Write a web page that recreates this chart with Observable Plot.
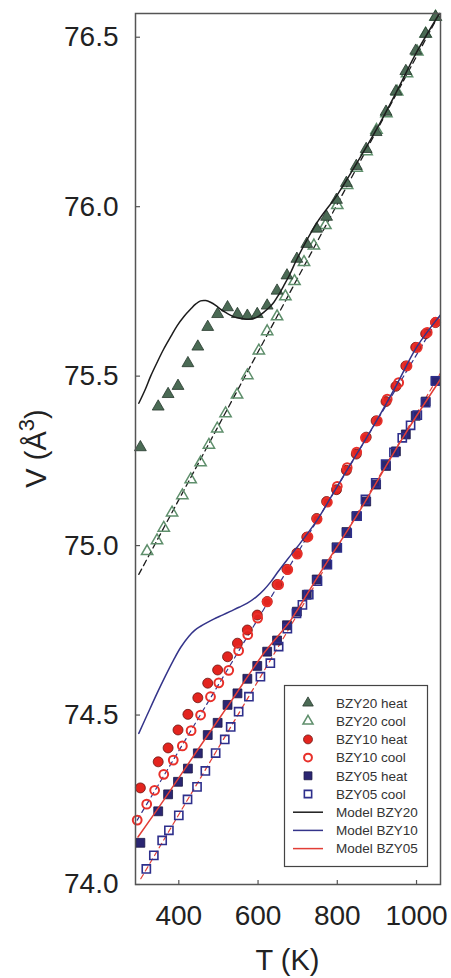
<!DOCTYPE html>
<html><head><meta charset="utf-8">
<script src="https://cdn.jsdelivr.net/npm/d3@7"></script>
<script src="https://cdn.jsdelivr.net/npm/@observablehq/plot@0.6"></script>
<style>body{margin:0;background:#fff;}</style>
</head><body><div id="chart"></div>
<script>
// ---- data ----
const T_heat = [303,348,373,398,423,448,473,498,523,548,573,598,623,648,673,698,723,748,773,798,823,848,873,898,923,948,973,998,1023,1048];
const bzy20Heat = [75.29,75.41,75.447,75.471,75.538,75.587,75.645,75.683,75.703,75.683,75.678,75.683,75.708,75.752,75.797,75.846,75.89,75.935,75.97,76.02,76.07,76.12,76.17,76.22,76.28,76.34,76.40,76.46,76.51,76.56];
const bzy10Heat = [74.285,74.362,74.403,74.456,74.502,74.551,74.594,74.633,74.672,74.712,74.751,74.795,74.835,74.885,74.93,74.978,75.025,75.08,75.13,75.165,75.222,75.27,75.32,75.368,75.425,75.47,75.53,75.585,75.625,75.658];
const bzy05Heat = [74.123,74.216,74.266,74.303,74.342,74.387,74.441,74.477,74.53,74.564,74.607,74.645,74.687,74.72,74.765,74.805,74.855,74.9,74.945,74.995,75.04,75.087,75.13,75.18,75.235,75.278,75.328,75.383,75.425,75.486];

const T_bzy20Cool = [320,345,362,383,409,430,455,476,497,518,547,573,602,623,648,669,692,716,741,770,800,825,849,874,899,924,951,976,1002,1023,1048];
const bzy20Cool = [74.983,75.015,75.052,75.097,75.148,75.195,75.245,75.297,75.345,75.39,75.445,75.502,75.575,75.632,75.676,75.735,75.78,75.836,75.885,75.945,76.004,76.063,76.114,76.163,76.226,76.275,76.339,76.393,76.457,76.51,76.56];

const T_bzy10Cool = [295,319,339,362,386,409,431,455,480,501,526,551,574,599,623,652,675,699,726,749,775,800,825,849,871,901,926,955,976,1002,1027,1048];
const bzy10Cool = [74.19,74.237,74.278,74.325,74.367,74.409,74.454,74.5,74.554,74.595,74.632,74.69,74.737,74.786,74.834,74.885,74.929,74.975,75.026,75.078,75.128,75.175,75.23,75.276,75.318,75.368,75.432,75.481,75.53,75.585,75.629,75.659];

const T_bzy05Cool = [318,337,358,375,400,422,446,467,493,516,531,551,577,606,631,652,674,697,712,728,750,775,800,825,850,871,897,922,943,964,985,1002,1023,1048];
const bzy05Cool = [74.046,74.086,74.13,74.16,74.204,74.251,74.288,74.335,74.388,74.428,74.465,74.51,74.554,74.613,74.653,74.702,74.755,74.8,74.825,74.855,74.895,74.944,74.993,75.037,75.087,75.136,75.185,75.24,75.275,75.318,75.355,75.385,75.422,75.486];

const T_model20 = [299,315,329,345,362,380,396,413,430,443,455,468,480,493,505,518,530,547,564,576,589,602,614,627,640,652,665,680,700,750,800,850,900,950,1000,1058];
const model20 = [75.42,75.46,75.50,75.54,75.58,75.617,75.649,75.676,75.698,75.713,75.722,75.723,75.718,75.709,75.698,75.688,75.68,75.672,75.669,75.668,75.67,75.677,75.688,75.701,75.718,75.74,75.767,75.8,75.85,75.955,76.035,76.13,76.23,76.34,76.455,76.57];

const T_model10 = [299,320,345,366,387,405,425,440,455,470,488,510,530,552,573,595,615,632,648,674,707,749,800,850,900,950,1000,1060];
const model10 = [74.446,74.50,74.564,74.615,74.663,74.70,74.732,74.75,74.762,74.772,74.783,74.795,74.806,74.818,74.83,74.848,74.87,74.893,74.919,74.959,75.008,75.075,75.175,75.272,75.37,75.475,75.585,75.68];

const T_model05 = [297,362,447,531,615,683,749,850,968,1060];
const model05 = [74.14,74.249,74.396,74.539,74.683,74.781,74.905,75.09,75.323,75.49];

const T_fit20 = [299,1058]; const fit20 = [74.915,76.57];
const T_fit10 = [295,1060]; const fit10 = [74.19,75.68];
const T_fit05 = [304,1060]; const fit05 = [74.017,75.508];

const xTicks = [400,600,800,1000];
const yTicks = [74.0,74.5,75.0,75.5,76.0,76.5];
const legendLabels = ["BZY20 heat","BZY20 cool","BZY10 heat","BZY10 cool","BZY05 heat","BZY05 cool","Model BZY20","Model BZY10","Model BZY05"];

// ---- build ----
const rows = (T, V) => T.map((t, i) => ({T: t, V: V[i]}));

const W = 451, H = 978, ML = 135, MR = 11, MT = 13, MB = 94;
const PW = W - ML - MR, PH = H - MT - MB;

const st = {
  h20: {symbol: "triangle", fill: "#4b6b55", stroke: "#27392d", strokeWidth: 0.8, r: 4.4},
  c20: {symbol: "triangle", fill: "none", stroke: "#5f8f6c", strokeWidth: 1.5, r: 4.2},
  h10: {symbol: "circle", fill: "#e3241e", stroke: "#6a1512", strokeWidth: 0.8, r: 5},
  c10: {symbol: "circle", fill: "none", stroke: "#e8302a", strokeWidth: 2, r: 4.4},
  h05: {symbol: "square", fill: "#2b2672", stroke: "#1a1745", strokeWidth: 0.8, r: 5},
  c05: {symbol: "square", fill: "none", stroke: "#2e2f8c", strokeWidth: 1.6, r: 4.6}
};
const lineCol = {m20: "#1c1c1c", m10: "#34348a", m05: "#e23e36"};

const font = "'Liberation Sans', Arial, Helvetica, sans-serif";

const plot = Plot.plot({
  width: W, height: H,
  marginLeft: ML, marginRight: MR, marginTop: MT, marginBottom: MB,
  style: {fontFamily: font, fontSize: "28px", color: "#222", background: "white"},
  x: {domain: [290.7, 1060.5], label: null},
  y: {domain: [74.0, 76.57], label: null},
  marks: [
    Plot.axisX(xTicks, {tickSize: 0, tickPadding: 21, fontSize: 28, label: null, tickFormat: d => String(d)}),
    Plot.axisY(yTicks, {tickSize: 0, tickPadding: 17, fontSize: 28, label: null, tickFormat: d => d.toFixed(1)}),
    Plot.tickX(xTicks, {x: d => d, stroke: "#555", strokeWidth: 1.2, insetTop: PH - 4}),
    Plot.tickY(yTicks, {y: d => d, stroke: "#555", strokeWidth: 1.2, insetRight: PW - 5}),
    Plot.line(rows(T_fit20, fit20), {x: "T", y: "V", stroke: "#1c1c1c", strokeWidth: 1.3, strokeDasharray: "6,4"}),
    Plot.line(rows(T_fit10, fit10), {x: "T", y: "V", stroke: lineCol.m10, strokeWidth: 1.2, strokeDasharray: "5,4"}),
    Plot.line(rows(T_fit05, fit05), {x: "T", y: "V", stroke: lineCol.m05, strokeWidth: 1.2, strokeDasharray: "5,4"}),
    Plot.dot(rows(T_bzy20Cool, bzy20Cool), {x: "T", y: "V", ...st.c20}),
    Plot.dot(rows(T_heat, bzy20Heat), {x: "T", y: "V", ...st.h20}),
    Plot.dot(rows(T_heat, bzy05Heat), {x: "T", y: "V", ...st.h05}),
    Plot.dot(rows(T_bzy05Cool, bzy05Cool), {x: "T", y: "V", ...st.c05}),
    Plot.dot(rows(T_heat, bzy10Heat), {x: "T", y: "V", ...st.h10}),
    Plot.dot(rows(T_bzy10Cool, bzy10Cool), {x: "T", y: "V", ...st.c10}),
    Plot.line(rows(T_model20, model20), {x: "T", y: "V", stroke: lineCol.m20, strokeWidth: 1.5, curve: "catmull-rom"}),
    Plot.line(rows(T_model10, model10), {x: "T", y: "V", stroke: lineCol.m10, strokeWidth: 1.5, curve: "catmull-rom"}),
    Plot.line(rows(T_model05, model05), {x: "T", y: "V", stroke: lineCol.m05, strokeWidth: 1.5, curve: "catmull-rom"}),
    Plot.frame({stroke: "#555", strokeWidth: 1.5})
  ]
});

const svg = d3.select(plot);

// axis titles
svg.append("text").attr("x", ML + PW / 2).attr("y", 970).attr("text-anchor", "middle")
  .attr("font-family", font).attr("font-size", 29).attr("fill", "#222").text("T (K)");
const yl = svg.append("text").attr("transform", `translate(46,${MT + PH / 2}) rotate(-90)`)
  .attr("text-anchor", "middle").attr("font-family", font).attr("font-size", 29).attr("fill", "#222");
yl.append("tspan").text("V (Å");
yl.append("tspan").attr("font-size", 22).attr("dy", -12).text("3");
yl.append("tspan").attr("dy", 12).text(")");

// legend
const lg = svg.append("g").attr("text-anchor", "start");
lg.append("rect").attr("x", 284.5).attr("y", 685.5).attr("width", 143).attr("height", 181)
  .attr("fill", "white").attr("stroke", "#444").attr("stroke-width", 1.2);
const symKeys = ["h20","c20","h10","c10","h05","c05"];
const symMap = {triangle: d3.symbolTriangle, circle: d3.symbolCircle, square: d3.symbolSquare};
legendLabels.forEach((lab, i) => {
  const y = 703 + i * 18.2;
  if (i < 6) {
    const s = st[symKeys[i]];
    lg.append("path").attr("transform", `translate(308,${y})`)
      .attr("d", d3.symbol(symMap[s.symbol], Math.PI * s.r * s.r * 0.8)())
      .attr("fill", s.fill).attr("stroke", s.stroke).attr("stroke-width", s.strokeWidth);
  } else {
    const c = [lineCol.m20, lineCol.m10, lineCol.m05][i - 6];
    lg.append("line").attr("x1", 293).attr("x2", 323).attr("y1", y).attr("y2", y)
      .attr("stroke", c).attr("stroke-width", 1.5);
  }
  lg.append("text").attr("x", 336).attr("y", y).attr("dy", "0.36em").attr("text-anchor", "start")
    .attr("font-family", font).attr("font-size", 13.5).attr("fill", "#333").text(lab);
});

document.getElementById("chart").append(plot);
</script>
</body></html>
